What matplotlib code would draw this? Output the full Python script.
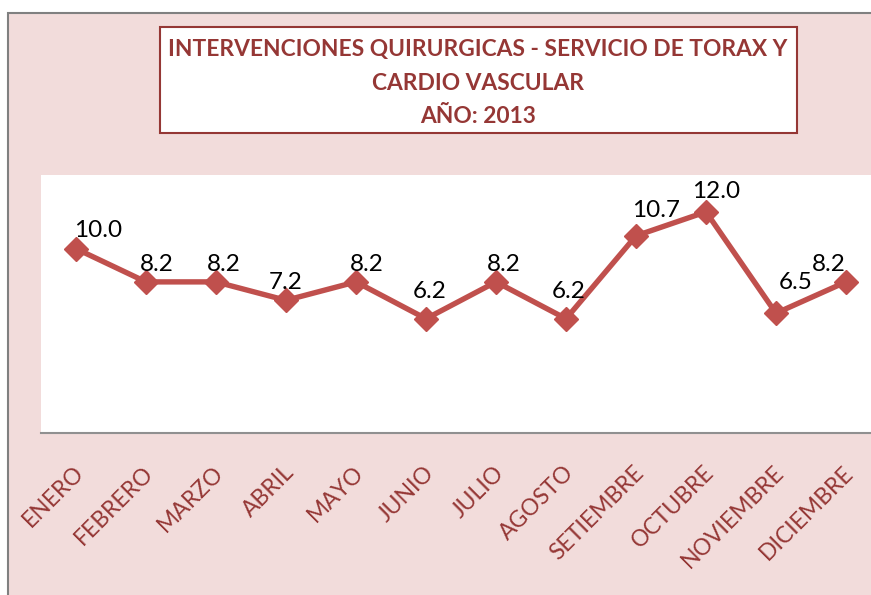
import matplotlib
matplotlib.use("Agg")
import matplotlib.pyplot as plt
from matplotlib.patches import Rectangle
from matplotlib.transforms import offset_copy

MESES = ["ENERO", "FEBRERO", "MARZO", "ABRIL", "MAYO", "JUNIO", "JULIO",
         "AGOSTO", "SETIEMBRE", "OCTUBRE", "NOVIEMBRE", "DICIEMBRE"]
VALORES = [10.0, 8.2, 8.2, 7.2, 8.2, 6.2, 8.2, 6.2, 10.7, 12.0, 6.5, 8.2]
TITULO = "INTERVENCIONES QUIRURGICAS - SERVICIO DE TORAX Y\nCARDIO VASCULAR\nAÑO: 2013"

# desplazamiento de las etiquetas de datos (px)
LABEL_DX = [22, 11, 8, 0, 11, 4, 8, 3, 20, 10, 20, -17]
LABEL_DY = [8, 7, 7, 7, 7, 17, 7, 17, 15, 10, 20, 7]

W, H = 871, 595
ROSA = "#F2DCDB"
ROJO = "#C0504D"
TEXTO = "#953735"
FUENTE = "Lato"

fig = plt.figure(figsize=(W / 100, H / 100), dpi=100)
fig.patch.set_facecolor("white")

# fondo del grafico con borde gris
fig.patches.append(Rectangle((8 / W, -0.1), 1.2, (582 / H) + 0.1,
                             transform=fig.transFigure, facecolor=ROSA,
                             edgecolor="#808080", linewidth=1.5, zorder=-5))

ax = fig.add_axes([41 / W, 162 / H, 840 / W, 258 / H])
ax.set_facecolor("white")
x = list(range(len(MESES)))
ax.plot(x, VALORES, color=ROJO, linewidth=3.9, marker="D", markersize=12.5,
        clip_on=False, zorder=3)
ax.set_xlim(-0.5, len(MESES) - 0.5)
ax.set_ylim(0, 14)
ax.set_yticks([])
ax.set_xticks([])
for s in ("top", "left", "right"):
    ax.spines[s].set_visible(False)
ax.spines["bottom"].set_color("#909090")
ax.spines["bottom"].set_linewidth(1.5)

for i, v in enumerate(VALORES):
    tr = offset_copy(ax.transData, fig=fig, x=LABEL_DX[i], y=LABEL_DY[i], units="dots")
    ax.text(i, v, f"{v:.1f}", transform=tr, ha="center", va="bottom",
            fontsize=17.5, family=FUENTE, color="black", zorder=4)

for i, m in enumerate(MESES):
    tr = offset_copy(ax.get_xaxis_transform(), fig=fig, x=-3, y=-29, units="dots")
    ax.text(i, 0, m, transform=tr, rotation=45, rotation_mode="anchor",
            ha="right", va="top", fontsize=16.5, family=FUENTE, color=TEXTO,
            clip_on=False)

# caja del titulo
fig.patches.append(Rectangle((160 / W, 1 - 133 / H), 637 / W, 106 / H,
                             transform=fig.transFigure, facecolor="white",
                             edgecolor=TEXTO, linewidth=1.5, zorder=1))
fig.text(478 / W, 1 - 83 / H, TITULO, ha="center", va="center",
         fontsize=16.4, fontweight="bold", family=FUENTE, color=TEXTO,
         linespacing=1.75, zorder=2)

fig.savefig("out.png", dpi=100)
